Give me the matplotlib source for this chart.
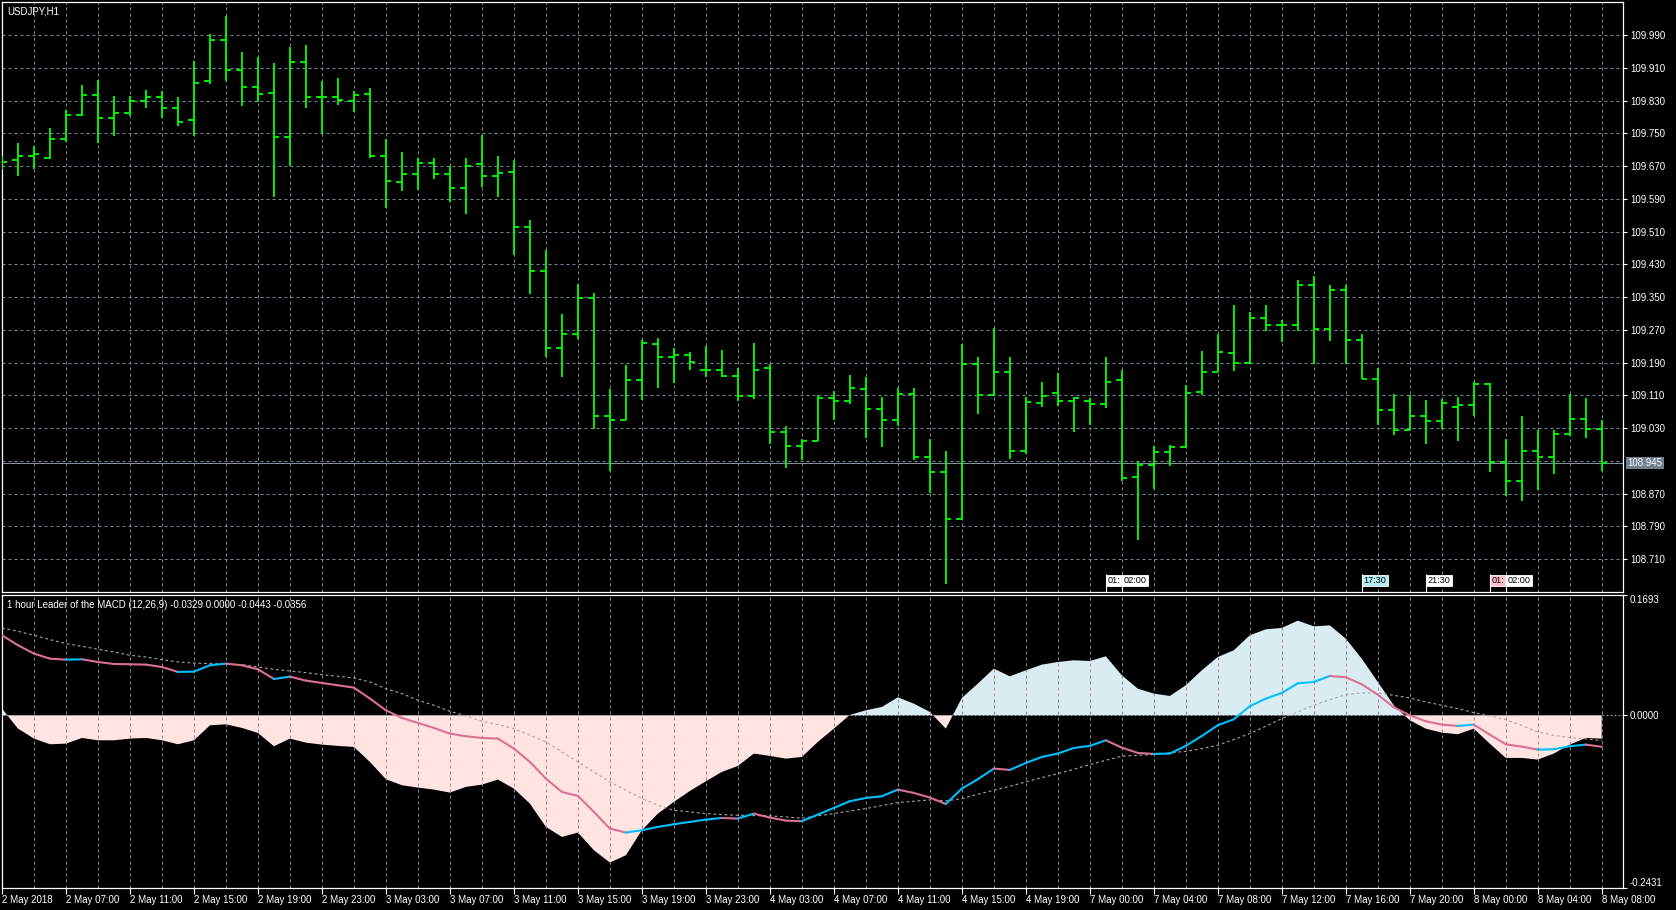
import numpy as np
import matplotlib
matplotlib.use("Agg")
import matplotlib.pyplot as plt
import matplotlib.transforms as mtransforms
from matplotlib.collections import LineCollection
from matplotlib.path import Path

plt.rcParams['font.family'] = ['Liberation Sans', 'DejaVu Sans']

# USDJPY H1 bars, 2 May 03:00 .. 8 May 08:00
opens = [109.672, 109.684, 109.695, 109.690, 109.736, 109.794, 109.845, 109.788, 109.799, 109.828,
         109.839, 109.813, 109.782, 109.879, 109.977, 109.904, 109.863, 109.849, 109.742, 109.924,
         109.838, 109.838, 109.829, 109.846, 109.696, 109.632, 109.652, 109.678, 109.650, 109.617,
         109.675, 109.645, 109.656, 109.522, 109.413, 109.225, 109.259, 109.347, 109.059, 109.051,
         109.149, 109.235, 109.204, 109.209, 109.173, 109.173, 109.158, 109.108, 109.177, 109.022,
         108.987, 108.999, 109.104, 109.097, 109.126, 109.076, 109.051, 109.114, 108.959, 108.922,
         108.809, 109.186, 109.112, 109.168, 108.975, 109.092, 109.116, 109.097, 109.097, 109.088,
         109.149, 108.911, 108.939, 108.972, 108.985, 109.118, 109.168, 109.213, 109.190, 109.299,
         109.282, 109.282, 109.380, 109.272, 109.367, 109.246, 109.151, 109.074, 109.025, 109.059,
         109.048, 109.081, 109.086, 109.138, 108.947, 108.900, 108.975, 108.959, 109.015, 109.053,
         109.029]
highs = [109.695, 109.726, 109.719, 109.763, 109.807, 109.868, 109.880, 109.842, 109.842, 109.856,
         109.853, 109.839, 109.926, 109.992, 110.038, 109.949, 109.936, 109.922, 109.962, 109.966,
         109.877, 109.885, 109.853, 109.861, 109.737, 109.704, 109.689, 109.691, 109.671, 109.690,
         109.747, 109.696, 109.686, 109.538, 109.466, 109.309, 109.383, 109.360, 109.127, 109.184,
         109.246, 109.251, 109.225, 109.216, 109.232, 109.221, 109.177, 109.237, 109.188, 109.035,
         109.004, 109.111, 109.122, 109.160, 109.155, 109.107, 109.128, 109.128, 109.004, 108.974,
         109.235, 109.204, 109.275, 109.204, 109.107, 109.144, 109.166, 109.107, 109.103, 109.204,
         109.171, 108.950, 108.987, 108.989, 109.136, 109.219, 109.260, 109.332, 109.315, 109.332,
         109.294, 109.392, 109.403, 109.380, 109.380, 109.259, 109.176, 109.114, 109.111, 109.099,
         109.102, 109.107, 109.144, 109.141, 109.003, 109.061, 109.026, 109.026, 109.114, 109.104,
         109.049]
lows = [109.660, 109.645, 109.662, 109.687, 109.730, 109.792, 109.726, 109.743, 109.793, 109.813,
        109.788, 109.768, 109.743, 109.870, 109.878, 109.817, 109.826, 109.594, 109.671, 109.811,
        109.748, 109.820, 109.802, 109.689, 109.569, 109.610, 109.611, 109.638, 109.582, 109.554,
        109.618, 109.594, 109.452, 109.359, 109.204, 109.155, 109.249, 109.027, 108.925, 109.051,
        109.100, 109.128, 109.140, 109.171, 109.155, 109.155, 109.097, 109.102, 108.991, 108.933,
        108.952, 108.998, 109.049, 109.090, 109.005, 108.983, 109.035, 108.952, 108.873, 108.649,
        108.808, 109.065, 109.110, 108.956, 108.966, 109.081, 109.085, 109.020, 109.038, 109.079,
        108.900, 108.756, 108.882, 108.937, 108.985, 109.112, 109.167, 109.170, 109.188, 109.267,
        109.241, 109.268, 109.188, 109.243, 109.188, 109.151, 109.037, 109.014, 109.025, 108.991,
        109.029, 108.998, 109.059, 108.924, 108.864, 108.853, 108.878, 108.917, 109.011, 109.005,
        108.926]
closes = [109.679, 109.695, 109.699, 109.736, 109.796, 109.845, 109.788, 109.799, 109.828, 109.839,
          109.813, 109.777, 109.872, 109.977, 109.904, 109.863, 109.846, 109.742, 109.924, 109.838,
          109.838, 109.832, 109.844, 109.696, 109.634, 109.652, 109.678, 109.650, 109.617, 109.671,
          109.645, 109.653, 109.522, 109.413, 109.225, 109.259, 109.347, 109.059, 109.051, 109.149,
          109.237, 109.204, 109.209, 109.192, 109.171, 109.158, 109.108, 109.173, 109.022, 108.987,
          108.999, 109.104, 109.097, 109.128, 109.078, 109.051, 109.114, 108.959, 108.922, 108.809,
          109.186, 109.112, 109.168, 108.975, 109.094, 109.109, 109.097, 109.103, 109.088, 109.142,
          108.909, 108.939, 108.972, 108.985, 109.116, 109.168, 109.215, 109.190, 109.299, 109.282,
          109.282, 109.380, 109.272, 109.367, 109.246, 109.151, 109.074, 109.025, 109.059, 109.048,
          109.091, 109.086, 109.138, 108.947, 108.900, 108.974, 108.959, 109.015, 109.053, 109.029,
          108.945]

# Leader of the MACD buffers
hist = [0.0094, -0.0188, -0.0328, -0.0408, -0.0399, -0.0319, -0.0352, -0.0352, -0.0328, -0.0319,
        -0.0352, -0.0408, -0.0352, -0.0141, -0.0127, -0.0178, -0.0249, -0.0436, -0.0328, -0.0385,
        -0.0413, -0.0431, -0.0446, -0.0657, -0.0900, -0.0985, -0.1018, -0.1046, -0.1088, -0.1008,
        -0.0976, -0.0905, -0.1032, -0.1243, -0.1571, -0.1712, -0.1651, -0.1899, -0.2073, -0.1970,
        -0.1618, -0.1384, -0.1219, -0.1065, -0.0929, -0.0797, -0.0713, -0.0539, -0.0572, -0.0610,
        -0.0586, -0.0375, -0.0188, 0.0005, 0.0070, 0.0117, 0.0253, 0.0164, 0.0047, -0.0188,
        0.0244, 0.0446, 0.0657, 0.0549, 0.0633, 0.0713, 0.0750, 0.0774, 0.0764, 0.0830,
        0.0563, 0.0375, 0.0305, 0.0272, 0.0422, 0.0633, 0.0821, 0.0915, 0.1126, 0.1210,
        0.1229, 0.1332, 0.1252, 0.1266, 0.1079, 0.0797, 0.0469, 0.0141, -0.0070, -0.0188,
        -0.0244, -0.0267, -0.0188, -0.0399, -0.0600, -0.0600, -0.0624, -0.0539, -0.0413, -0.0319,
        -0.0329]
macd = [0.1126, 0.0985, 0.0868, 0.0797, 0.0783, 0.0788, 0.0750, 0.0722, 0.0718, 0.0713,
        0.0680, 0.0610, 0.0614, 0.0704, 0.0727, 0.0704, 0.0647, 0.0511, 0.0544, 0.0488,
        0.0455, 0.0422, 0.0389, 0.0235, 0.0070, -0.0038, -0.0108, -0.0178, -0.0258, -0.0295,
        -0.0319, -0.0328, -0.0469, -0.0657, -0.0891, -0.1079, -0.1135, -0.1360, -0.1595, -0.1651,
        -0.1618, -0.1571, -0.1534, -0.1501, -0.1468, -0.1445, -0.1454, -0.1384, -0.1440, -0.1482,
        -0.1491, -0.1398, -0.1304, -0.1210, -0.1163, -0.1140, -0.1046, -0.1093, -0.1158, -0.1248,
        -0.1032, -0.0900, -0.0750, -0.0769, -0.0671, -0.0586, -0.0539, -0.0460, -0.0431, -0.0352,
        -0.0455, -0.0530, -0.0544, -0.0539, -0.0431, -0.0291, -0.0141, -0.0056, 0.0127, 0.0235,
        0.0314, 0.0450, 0.0469, 0.0553, 0.0535, 0.0436, 0.0291, 0.0113, 0.0000, -0.0084,
        -0.0131, -0.0150, -0.0131, -0.0272, -0.0408, -0.0441, -0.0483, -0.0478, -0.0436, -0.0413,
        -0.0443]
signal = [0.1229, 0.1182, 0.1126, 0.1065, 0.1008, 0.0971, 0.0929, 0.0891, 0.0844, 0.0821,
          0.0783, 0.0750, 0.0736, 0.0727, 0.0722, 0.0713, 0.0680, 0.0647, 0.0624, 0.0600,
          0.0572, 0.0549, 0.0525, 0.0469, 0.0375, 0.0305, 0.0211, 0.0141, 0.0056, -0.0009,
          -0.0084, -0.0131, -0.0188, -0.0281, -0.0375, -0.0516, -0.0657, -0.0797, -0.0938, -0.1055,
          -0.1173, -0.1266, -0.1337, -0.1360, -0.1384, -0.1398, -0.1407, -0.1412, -0.1416, -0.1430,
          -0.1449, -0.1416, -0.1384, -0.1346, -0.1313, -0.1271, -0.1229, -0.1210, -0.1191, -0.1205,
          -0.1173, -0.1112, -0.1055, -0.0999, -0.0938, -0.0877, -0.0821, -0.0760, -0.0694, -0.0633,
          -0.0577, -0.0563, -0.0553, -0.0530, -0.0507, -0.0469, -0.0422, -0.0342, -0.0258, -0.0155,
          -0.0047, 0.0047, 0.0141, 0.0220, 0.0291, 0.0314, 0.0314, 0.0281, 0.0244, 0.0188,
          0.0141, 0.0094, 0.0038, -0.0009, -0.0061, -0.0141, -0.0234, -0.0281, -0.0314, -0.0333,
          -0.0356]

time_labels = ["2 May 2018", "2 May 07:00", "2 May 11:00", "2 May 15:00", "2 May 19:00",
               "2 May 23:00", "3 May 03:00", "3 May 07:00", "3 May 11:00", "3 May 15:00",
               "3 May 19:00", "3 May 23:00", "4 May 03:00", "4 May 07:00", "4 May 11:00",
               "4 May 15:00", "4 May 19:00", "7 May 00:00", "7 May 04:00", "7 May 08:00",
               "7 May 12:00", "7 May 16:00", "7 May 20:00", "8 May 00:00", "8 May 04:00",
               "8 May 08:00"]
price_ticks = [108.710, 108.790, 108.870, 108.950, 109.030, 109.110, 109.190, 109.270, 109.350,
               109.430, 109.510, 109.590, 109.670, 109.750, 109.830, 109.910, 109.990]
last_price = 108.945
# news events: bar index, visible time text, tag colour
event_bars = [69, 70, 85, 89, 93, 94]
event_text = ["01:", "02:00", "17:30", "21:30", "01:", "02:00"]
event_colors = ["white", "white", "#b4eef0", "white", "#ffc0cb", "white"]

n = len(closes)
x = np.arange(n)

W, H = 1676, 910
fig = plt.figure(figsize=(W / 100, H / 100), dpi=100, facecolor='black')
ax1 = fig.add_axes([2 / W, (H - 592) / H, 1621 / W, 590 / H], facecolor='black')
ax2 = fig.add_axes([2 / W, (H - 888) / H, 1621 / W, 293 / H], facecolor='black')

grid_col = '#778899'
green = '#00ff00'
fs = 7.0
xlim = (0.02, 101.33)
grid_x = np.arange(2, n, 2)

# ---- price panel
ax1.set_xlim(*xlim)
ax1.set_ylim(108.630, 110.071)
ax1.hlines(price_ticks, xlim[0], xlim[1], colors=grid_col, lw=0.72, linestyles=(0, (3, 3)), zorder=1)
ax1.vlines(grid_x, 108.630, 110.071, colors=grid_col, lw=0.72, linestyles=(0, (3, 3)), zorder=1)
ax1.axhline(last_price, color='#8090a0', lw=0.8, zorder=2)
ax1.vlines(x, lows, highs, colors=green, lw=1.3, zorder=3)
ax1.hlines(opens, x - 0.33, x, colors=green, lw=1.3, zorder=3)
ax1.hlines(closes, x, x + 0.33, colors=green, lw=1.3, zorder=3)

ax1.set_xticks([])
ax1.yaxis.tick_right()
shown = [p for p in price_ticks if abs(p - 108.950) > 1e-6]
ax1.set_yticks(shown)
ax1.set_yticklabels(["{:.3f}".format(p) for p in shown])
ax1.tick_params(axis='y', colors='white', length=3, width=0.8, pad=2, labelsize=fs)
for s in ax1.spines.values():
    s.set_color('white')
    s.set_linewidth(0.9)

trans_ax_data = mtransforms.blended_transform_factory(ax1.transAxes, ax1.transData)
ax1.text(1.0025, last_price, "{:.3f}".format(last_price), transform=trans_ax_data,
         ha='left', va='center', color='white', fontsize=fs, clip_on=False,
         bbox=dict(boxstyle='square,pad=0.15', fc='#708090', ec='none'))
ax1.text(0.003, 0.993, "USDJPY,H1", transform=ax1.transAxes, ha='left', va='top',
         color='white', fontsize=fs)

trans_data_ax = mtransforms.blended_transform_factory(ax1.transData, ax1.transAxes)
for k, (b, t, c) in enumerate(zip(event_bars, event_text, event_colors)):
    ax1.vlines(b, 0, 0.03, transform=trans_data_ax, colors='white', lw=0.8, zorder=5 + k)
    ax1.text(b + 0.1, 0.012, t, transform=trans_data_ax, ha='left', va='bottom',
             fontsize=6.6, color='black', zorder=5 + k,
             bbox=dict(boxstyle='square,pad=0.15', fc=c, ec='white', lw=0.6))

# ---- indicator panel
ymin, ymax = -0.2431, 0.1693
ax2.set_xlim(*xlim)
ax2.set_ylim(ymin, ymax)
hist_a = np.array(hist)
ax2.vlines(grid_x, ymin, ymax, colors=grid_col, lw=0.72, linestyles=(0, (3, 3)), zorder=1)
fneg = ax2.fill_between(x, 0, hist_a, where=hist_a <= 0, interpolate=True,
                        facecolor='#ffe4e1', edgecolor='none', zorder=2)
fpos = ax2.fill_between(x, 0, hist_a, where=hist_a >= 0, interpolate=True,
                        facecolor='#d8ecf2', edgecolor='none', zorder=2)
clip_path = Path.make_compound_path(*(list(fneg.get_paths()) + list(fpos.get_paths())))
inner = ax2.vlines(grid_x, ymin, ymax, colors='#b07a86', lw=0.72, linestyles=(0, (3, 3)), zorder=3)
inner.set_clip_path(clip_path, ax2.transData)
ax2.axhline(0, color='#a0a0a0', lw=0.72, ls=(0, (2, 2)), zorder=4)

ax2.plot(x, signal, color='#a8a8a8', lw=0.8, ls=(0, (2.5, 2.5)), zorder=5)
macd_a = np.array(macd)
segs = [[(x[i - 1], macd_a[i - 1]), (x[i], macd_a[i])] for i in range(1, n)]
seg_cols = ['#00bfff' if macd_a[i] >= macd_a[i - 1] else '#db7093' for i in range(1, n)]
ax2.add_collection(LineCollection(segs, colors=seg_cols, linewidths=1.5, zorder=6,
                                  capstyle='round'))

ax2.yaxis.tick_right()
ax2.set_yticks([ymax, 0.0, ymin])
ax2.set_yticklabels(["0.1693", "0.0000", "-0.2431"])
ax2.tick_params(axis='y', colors='white', length=3, width=0.8, pad=2, labelsize=fs)
ylab = ax2.get_yticklabels()
ylab[0].set_va('top')
ylab[2].set_va('bottom')
ax2.set_xticks(np.arange(0, n, 4))
ax2.set_xticklabels(time_labels, ha='left')
ax2.tick_params(axis='x', colors='white', length=4, width=0.8, pad=1, labelsize=fs)
for s in ax2.spines.values():
    s.set_color('white')
    s.set_linewidth(0.9)
ax2.text(0.003, 0.983, "1 hour Leader of the MACD (12,26,9) -0.0329 0.0000 -0.0443 -0.0356",
         transform=ax2.transAxes, ha='left', va='top', color='white', fontsize=fs)

fig.savefig("out.png", dpi=100, facecolor='black')
